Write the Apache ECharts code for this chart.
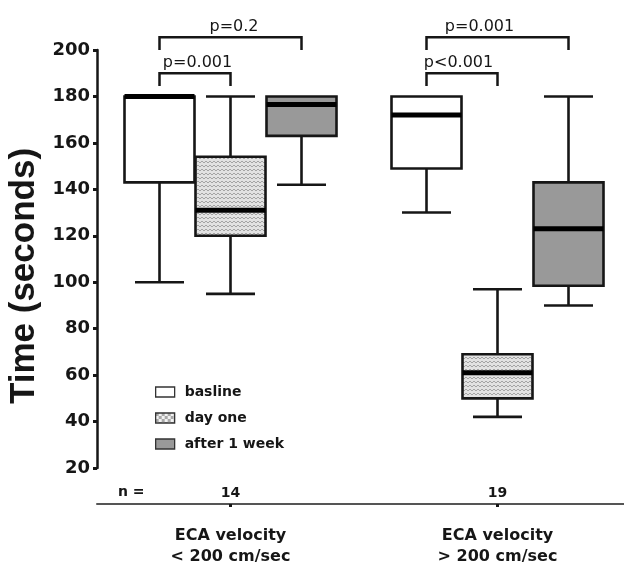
<!DOCTYPE html>
<html><head><meta charset="utf-8">
<script src="https://cdn.jsdelivr.net/npm/echarts@6/dist/echarts.min.js"></script>
<style>html,body{margin:0;padding:0;background:#fff}#chart{width:624px;height:564px}</style>
</head><body><div id="chart"></div>
<script>
// ---- data ----
const groups = ['ECA velocity\n< 200 cm/sec', 'ECA velocity\n> 200 cm/sec'];
const nCounts = ['14', '19'];
const seriesNames = ['basline', 'day one', 'after 1 week'];
// each row: [min, Q1, median, Q3, max] per group
const baseline  = [[100, 143, 180, 180, 180], [130, 149, 172, 180, 180]];
const dayOne    = [[95, 120, 131, 154, 180], [42, 50, 61, 69, 97]];
const afterWeek = [[142, 163, 176.5, 180, 180], [90, 98.5, 123, 143, 180]];
const yMin = 20, yMax = 200, yStep = 20;
// significance brackets
const bracketGroup = [0, 0, 1, 1];
const bracketFrom  = [0, 0, 0, 0];
const bracketTo    = [1, 2, 1, 2];
const bracketLevel = [190, 205.5, 190, 205.5];
const bracketText  = ['p=0.001', 'p=0.2', 'p<0.001', 'p=0.001'];

// ---- layout / style constants ----
const BOX_OFFSET = [-71, 0, 71];
const HALF = 35, CAP = 24.5, DROP = 5.5;
const LABEL_SHIFT = [2.5, 3.5, -3.5, -18];
const INK = '#161616';

function makePattern(kind) {
  const c = document.createElement('canvas');
  if (kind === 'wave') {
    c.width = 8; c.height = 4;
    const g = c.getContext('2d');
    g.fillStyle = '#e2e2e2'; g.fillRect(0, 0, 8, 4);
    g.strokeStyle = '#a4a4a4'; g.lineWidth = 1;
    g.beginPath(); g.moveTo(0, 3); g.lineTo(2, 1); g.lineTo(4, 3); g.lineTo(6, 1); g.lineTo(8, 3); g.stroke();
  } else {
    c.width = 6; c.height = 6;
    const g = c.getContext('2d');
    g.fillStyle = '#f2f2f2'; g.fillRect(0, 0, 6, 6);
    g.fillStyle = '#a8a8a8'; g.fillRect(0, 0, 3, 3); g.fillRect(3, 3, 3, 3);
  }
  return { image: c, repeat: 'repeat' };
}
const FILLS = ['#ffffff', makePattern('wave'), '#999999'];
const LEGEND_FILLS = ['#ffffff', makePattern('check'), '#999999'];

function renderBox(params, api) {
  const cat = api.value(0);
  const v = [1, 2, 3, 4, 5].map(i => api.value(i));
  const off = BOX_OFFSET[params.seriesIndex];
  const pt = val => api.coord([cat, val]);
  const cx = pt(v[2])[0] + off;
  const y = v.map(val => pt(val)[1]);
  const ls = { stroke: INK, lineWidth: 2.6, fill: null };
  const ch = [];
  if (v[4] > v[3]) {
    ch.push({ type: 'line', shape: { x1: cx, y1: y[3], x2: cx, y2: y[4] }, style: ls });
    ch.push({ type: 'line', shape: { x1: cx - CAP, y1: y[4], x2: cx + CAP, y2: y[4] }, style: ls });
  }
  if (v[0] < v[1]) {
    ch.push({ type: 'line', shape: { x1: cx, y1: y[1], x2: cx, y2: y[0] }, style: ls });
    ch.push({ type: 'line', shape: { x1: cx - CAP, y1: y[0], x2: cx + CAP, y2: y[0] }, style: ls });
  }
  ch.push({ type: 'rect', shape: { x: cx - HALF, y: y[3], width: 2 * HALF, height: y[1] - y[3] },
            style: { fill: FILLS[params.seriesIndex], stroke: INK, lineWidth: 2.6 } });
  ch.push({ type: 'rect', shape: { x: cx - HALF, y: y[2] - 2.5, width: 2 * HALF, height: 5 },
            style: { fill: '#000' } });
  return { type: 'group', children: ch };
}

function renderBracket(params, api) {
  const i = params.dataIndex;
  const g = api.value(0), lvl = api.value(3);
  const base = api.coord([g, lvl]);
  const x1 = base[0] + BOX_OFFSET[api.value(1)];
  const x2 = base[0] + BOX_OFFSET[api.value(2)];
  const yTop = base[1];
  const yDrop = api.coord([g, lvl - DROP])[1];
  return {
    type: 'group',
    children: [
      { type: 'polyline', shape: { points: [[x1, yDrop], [x1, yTop], [x2, yTop], [x2, yDrop]] },
        style: { stroke: INK, lineWidth: 2.5, fill: null } },
      { type: 'text', style: { text: bracketText[i], x: (x1 + x2) / 2 + LABEL_SHIFT[i], y: yTop - 2,
        align: 'center', verticalAlign: 'bottom', fill: INK, font: '16px "DejaVu Sans"' } }
    ]
  };
}

const boxSets = [baseline, dayOne, afterWeek];
const series = boxSets.map((set, s) => ({
  name: seriesNames[s],
  type: 'custom',
  xAxisIndex: 0,
  renderItem: renderBox,
  encode: { x: 0, y: [1, 2, 3, 4, 5] },
  itemStyle: { color: s === 2 ? '#999999' : '#dddddd' },
  data: set.map((d, i) => [i].concat(d)),
  z: 3
}));
series.push({
  name: 'brackets',
  type: 'custom',
  xAxisIndex: 0,
  renderItem: renderBracket,
  encode: { x: 0, y: 3 },
  clip: false,
  data: bracketGroup.map((g, i) => [g, bracketFrom[i], bracketTo[i], bracketLevel[i]]),
  z: 4
});

const chart = echarts.init(document.getElementById('chart'));
chart.setOption({
  animation: false,
  backgroundColor: '#ffffff',
  grid: { left: 97, width: 534, top: 50, bottom: 96, containLabel: false, outerBoundsMode: 'none' },
  legend: {
    orient: 'vertical', left: 150, top: 379,
    itemWidth: 19, itemHeight: 10, itemGap: 10,
    selectedMode: false,
    textStyle: { fontFamily: 'DejaVu Sans', fontWeight: 'bold', fontSize: 14, color: INK,
                 lineHeight: 16, padding: [0, 0, 0, 5] },
    data: seriesNames.map((n, i) => ({
      name: n, icon: 'rect',
      itemStyle: { color: LEGEND_FILLS[i], borderColor: '#333', borderWidth: 1.3 }
    }))
  },
  graphic: [{
    type: 'text', left: 118, top: 485,
    style: { text: 'n =', font: 'bold 14px "DejaVu Sans"', fill: INK }
  }],
  xAxis: [{
    type: 'category', data: groups, position: 'bottom', offset: 36,
    axisLine: { show: true, lineStyle: { color: '#555', width: 2 } },
    axisTick: { show: true, alignWithLabel: true, length: 3, lineStyle: { color: INK, width: 3 } },
    axisLabel: { margin: 21, fontFamily: 'DejaVu Sans', fontWeight: 'bold', fontSize: 16,
                 lineHeight: 21, color: INK, interval: 0 },
    splitLine: { show: false }
  }, {
    type: 'category', data: nCounts, position: 'bottom', offset: 36,
    axisLine: { show: false }, axisTick: { show: false },
    axisLabel: { inside: true, margin: 4, fontFamily: 'DejaVu Sans', fontWeight: 'bold',
                 fontSize: 14, color: INK, interval: 0 },
    splitLine: { show: false }
  }],
  yAxis: {
    type: 'value', min: yMin, max: yMax, interval: yStep,
    name: 'Time (seconds)', nameLocation: 'middle', nameGap: 46,
    nameTextStyle: { fontFamily: 'Liberation Sans', fontWeight: 'bold', fontSize: 35, color: INK,
                     padding: [0, 34, 0, 0] },
    axisLine: { show: true, lineStyle: { color: INK, width: 2.5 } },
    axisTick: { show: true, length: 4, lineStyle: { color: INK, width: 3 } },
    axisLabel: { margin: 7, fontFamily: 'DejaVu Sans', fontWeight: 'bold', fontSize: 18, color: INK },
    splitLine: { show: false }
  },
  series: series
});
</script>
</body></html>
